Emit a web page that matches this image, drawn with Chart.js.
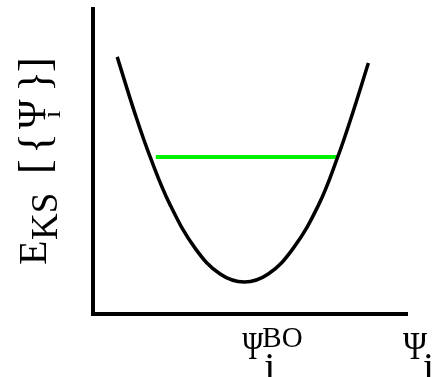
<!DOCTYPE html>
<html>
<head>
<meta charset="utf-8">
<script src="https://cdn.jsdelivr.net/npm/chart.js@4.4.0/dist/chart.umd.min.js"></script>
<style>
  html, body { margin: 0; padding: 0; background: #fff; }
</style>
</head>
<body>
<canvas id="grafico" width="437" height="377"></canvas>
<script>
// curve (arbitrary units, both axes 0..10)
const curvaX = [0.77, 1.34, 1.82, 2.46, 3.25, 4.05, 4.82, 5.58, 6.38, 7.18, 7.78, 8.26, 8.77];
const curvaY = [8.43, 6.56, 5.15, 3.57, 2.16, 1.31, 1.05, 1.31, 2.16, 3.57, 5.11, 6.56, 8.23];
// green level
const nivelX = [2.0, 7.78];
const nivelY = [5.15, 5.15];
// where the labels sit on the x axis
const posMinimo = 4.82;

const FUENTE = '"Liberation Serif", "Times New Roman", serif';

// Psi squeezed to a given width (the x axis ones are narrow)
function psi(ctx, x, y, ancho) {
  ctx.save();
  ctx.font = '40px ' + FUENTE;
  const w = ctx.measureText('\u03A8').width;
  ctx.translate(x, y);
  ctx.scale(ancho / w, 1);
  ctx.fillText('\u03A8', 0, 0);
  ctx.restore();
}

const etiquetas = {
  id: 'etiquetas',
  afterDraw(chart) {
    const ctx = chart.ctx;
    const area = chart.chartArea;
    const x0 = chart.scales.x.getPixelForValue(posMinimo);
    ctx.save();
    ctx.fillStyle = '#000';
    ctx.textAlign = 'left';
    ctx.textBaseline = 'alphabetic';

    // x axis: Psi_i^BO under the minimum
    psi(ctx, x0 - 2, 359, 21);
    ctx.font = '40px ' + FUENTE;
    ctx.fillText('i', x0 + 20, 380);
    ctx.font = '29px ' + FUENTE;
    ctx.fillText('BO', x0 + 18, 347);

    // x axis end: Psi_i
    psi(ctx, area.right - 4, 359, 24);
    ctx.font = '40px ' + FUENTE;
    ctx.fillText('i', area.right + 16, 380);

    // y axis title, rotated
    ctx.rotate(-Math.PI / 2);
    const trozo = (txt, size, ini, base) => {
      ctx.font = size + 'px ' + FUENTE;
      ctx.fillText(txt, -ini, base);
    };
    trozo('E', 40, 265, 46);
    trozo('KS', 37, 240, 57);
    trozo('[', 44, 174, 49);
    trozo('{', 44, 154, 49);
    trozo('\u03A8', 40, 129, 45);
    trozo('i', 26, 118, 60);
    trozo('}', 44, 92, 49);
    trozo(']', 44, 72, 49);
    ctx.restore();
  }
};

const ejeNegro = {
  border: { display: true, color: '#000', width: 4 },
  grid: { display: false, drawTicks: false },
  ticks: { display: false },
  min: 0,
  max: 10
};

new Chart(document.getElementById('grafico'), {
  type: 'line',
  data: {
    datasets: [
      {
        data: curvaX.map((x, i) => ({ x: x, y: curvaY[i] })),
        borderColor: '#000',
        borderWidth: 3.5,
        pointRadius: 0,
        tension: 0.4,
        fill: false,
        order: 0
      },
      {
        data: nivelX.map((x, i) => ({ x: x, y: nivelY[i] })),
        borderColor: '#00f000',
        borderWidth: 4,
        pointRadius: 0,
        fill: false,
        order: 1
      }
    ]
  },
  options: {
    responsive: false,
    animation: false,
    events: [],
    layout: { padding: { left: 93, top: 9, right: 30, bottom: 63 } },
    plugins: { legend: { display: false }, tooltip: { enabled: false } },
    scales: {
      x: Object.assign({ type: 'linear' }, ejeNegro),
      y: Object.assign({ type: 'linear' }, ejeNegro)
    }
  },
  plugins: [etiquetas]
});
</script>
</body>
</html>
